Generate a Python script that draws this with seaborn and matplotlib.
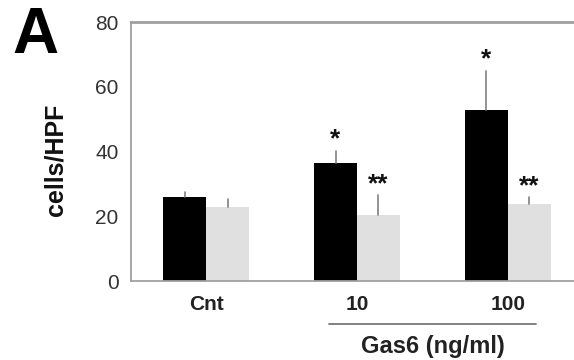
import matplotlib
matplotlib.use("Agg")
import matplotlib.pyplot as plt
import seaborn as sns
import pandas as pd
import numpy as np

categories = ["Cnt", "10", "100"]
series_names = ["black", "gray"]
black_values = [26.1, 36.6, 52.9]
black_errors = [1.6, 3.7, 12.1]
gray_values = [23.0, 20.4, 23.9]
gray_errors = [2.4, 6.2, 2.0]
black_marks = ["", "*", "*"]
gray_marks = ["", "**", "**"]
y_ticks = [0, 20, 40, 60, 80]

sns.set_theme(style="white")
plt.rcParams['font.family'] = ['Liberation Sans', 'DejaVu Sans']

df = pd.DataFrame({
    "cat": categories * 2,
    "series": [series_names[0]] * 3 + [series_names[1]] * 3,
    "value": black_values + gray_values,
})

fig = plt.figure(figsize=(5.74, 3.60), dpi=100)
W, H = 574, 360
ax = fig.add_axes([131 / W, 1 - 281.3 / H, (583 - 131) / W, (281.3 - 22) / H])

sns.barplot(data=df, x="cat", y="value", hue="series", order=categories,
            hue_order=series_names, palette=["#000000", "#e0e0e0"],
            width=0.57, gap=0, errorbar=None, legend=False, ax=ax,
            edgecolor="none", linewidth=0)

# error bars (upper only) and significance marks
containers = ax.containers
for cont, vals, errs, marks in zip(containers, [black_values, gray_values],
                                   [black_errors, gray_errors],
                                   [black_marks, gray_marks]):
    for bar, v, e, m in zip(cont, vals, errs, marks):
        xc = bar.get_x() + bar.get_width() / 2
        ax.plot([xc, xc], [v, v + e], color="#808080", lw=1.2, zorder=1)
        if m:
            ax.text(xc, v + e + 1.3, m, ha="center", va="baseline",
                    fontsize=19, fontweight="bold", color="#111111")

ax.set_xlim(-0.5, 2.5)
ax.set_ylim(0, 80)
ax.set_yticks(y_ticks)
ax.set_yticklabels([str(t) for t in y_ticks], fontsize=15, color="#333333")
ax.tick_params(axis="y", length=0, pad=9)
ax.tick_params(axis="x", length=0, pad=10)
ax.set_xticks(range(len(categories)))
ax.set_xticklabels(categories, fontsize=15, fontweight="bold", color="#222222")
ax.set_xticks([0.5, 1.5], minor=True)
ax.tick_params(axis="x", which="minor", length=2, color="#bbbbbb", direction="out")
ax.set_xlabel("")
ax.set_ylabel("cells/HPF", fontsize=18, fontweight="bold", color="#111111")
ax.yaxis.set_label_coords(-0.14, 0.47)

for s in ["left", "bottom", "top"]:
    ax.spines[s].set_visible(True)
    ax.spines[s].set_color("#a0a0a0")
ax.spines["left"].set_linewidth(1.3)
ax.spines["bottom"].set_linewidth(1.3)
ax.spines["top"].set_linewidth(2.0)
ax.spines["right"].set_visible(False)

# Gas6 group bracket line and label
fig.add_artist(plt.Line2D([329 / W, 536 / W], [1 - 324 / H, 1 - 324 / H],
                          color="#777777", lw=1.3))
fig.text(433 / W, 1 - 346 / H, "Gas6 (ng/ml)", ha="center", va="center",
         fontsize=17, fontweight="bold", color="#222222")

fig.text(12 / W, 1 - 36 / H, "A", ha="left", va="center",
         fontsize=46, fontweight="bold", color="#000000")

fig.savefig("out.png", dpi=100)
